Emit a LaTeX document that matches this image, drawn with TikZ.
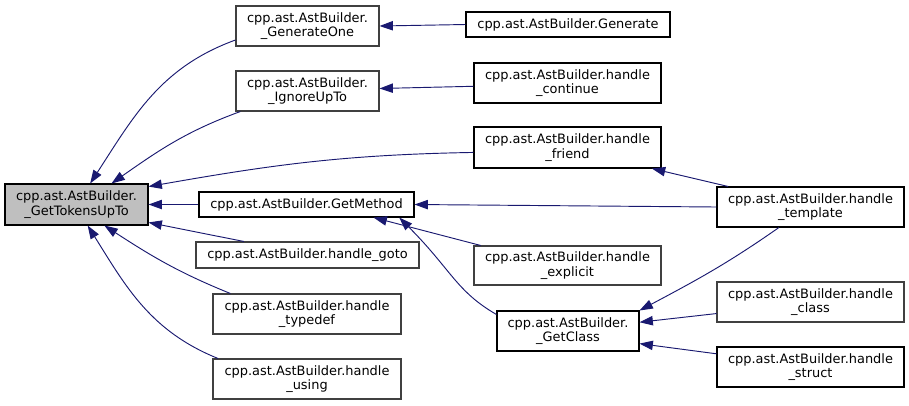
\documentclass[tikz,border=0pt]{standalone}
\usepackage{fontspec}
\setmainfont{DejaVu Sans}
\usetikzlibrary{arrows.meta}

\definecolor{edgeblue}{HTML}{191970}
\definecolor{rootgray}{HTML}{BFBFBF}

\tikzset{
    fn/.style={draw=black, line width=0.8pt, fill=white, inner sep=0pt, align=center,
        font=\fontsize{9.7}{10.8}\selectfont, minimum width=140.25pt, minimum height=30pt},
    fngray/.style={fn, draw=black!75},
    call/.style={draw=edgeblue, line width=0.7pt, -{Triangle[length=10pt,width=7pt]}}
}

\begin{document}
\begin{tikzpicture}[x=0.75pt, y=0.75pt]
    % Page size of the reference
    \useasboundingbox (0,0) rectangle (909,-405);

    % Function being looked at
    \node[fn, fill=rootgray, minimum width=107.25pt, minimum height=30.75pt] (tokens) at (76.5,-204.5)
        {cpp.ast.AstBuilder.\\\_GetTokensUpTo};

    % Direct callers
    \node[fngray, minimum width=107.25pt] (genone) at (307.5,-26) {cpp.ast.AstBuilder.\\\_GenerateOne};
    \node[fngray, minimum width=107.25pt] (ignore) at (307.5,-91) {cpp.ast.AstBuilder.\\\_IgnoreUpTo};
    \node[fn, minimum width=161.25pt, minimum height=18.75pt] (getmethod) at (306.5,-204.5) {cpp.ast.AstBuilder.GetMethod};
    \node[fngray, minimum width=167.25pt, minimum height=19.5pt] (hgoto) at (307.5,-255) {cpp.ast.AstBuilder.handle\_goto};
    \node[fngray, minimum width=141pt] (htypedef) at (307,-314) {cpp.ast.AstBuilder.handle\\\_typedef};
    \node[fngray, minimum width=141pt] (husing) at (307,-379) {cpp.ast.AstBuilder.handle\\\_using};
    \node[fn, minimum height=30.75pt] (hfriend) at (567.5,-147.5) {cpp.ast.AstBuilder.handle\\\_friend};

    % Second level
    \node[fn, minimum width=153pt, minimum height=18.75pt] (generate) at (568,-24.5) {cpp.ast.AstBuilder.Generate};
    \node[fn] (hcontinue) at (567.5,-83) {cpp.ast.AstBuilder.handle\\\_continue};
    \node[fngray, minimum height=29.25pt] (hexplicit) at (567.5,-265.5) {cpp.ast.AstBuilder.handle\\\_explicit};
    \node[fn, minimum width=106.5pt] (getclass) at (568,-331) {cpp.ast.AstBuilder.\\\_GetClass};

    % Third level
    \node[fn] (htemplate) at (810.5,-207) {cpp.ast.AstBuilder.handle\\\_template};
    \node[fngray] (hclass) at (810.5,-302) {cpp.ast.AstBuilder.handle\\\_class};
    \node[fn] (hstruct) at (810.5,-367) {cpp.ast.AstBuilder.handle\\\_struct};

    % Calls into _GetTokensUpTo
    \draw[call] (genone.191) to[out=200, in=57] (tokens.57);
    \draw[call] (ignore.197) to[out=200, in=35] (tokens.31);
    \draw[call] (hfriend.183) to[out=181, in=10] (tokens.14);
    \draw[call] (getmethod.west) -- (tokens.east);
    \draw[call] (hgoto.168) -- (tokens.-14);
    \draw[call] (htypedef.165) to[out=158, in=-33] (tokens.-37);
    \draw[call] (husing.167) to[out=158, in=-58] (tokens.-62);

    % Calls between the others
    \draw[call] (generate.west) -- (genone.east);
    \draw[call] (hcontinue.182) -- (ignore.2);
    \draw[call] (htemplate.166) -- (hfriend.-14);
    \draw[call] (htemplate.west) -- (getmethod.east);
    \draw[call] (hexplicit.167) -- (getmethod.-11);
    \draw[call] (getclass.167) .. controls +(150:35pt) and +(-45:55pt) .. (getmethod.-8);
    \draw[call] (htemplate.213) to[out=215, in=28] (getclass.north east);
    \draw[call] (hclass.187) -- (getclass.7);
    \draw[call] (hstruct.172) -- (getclass.-10);
\end{tikzpicture}
\end{document}
